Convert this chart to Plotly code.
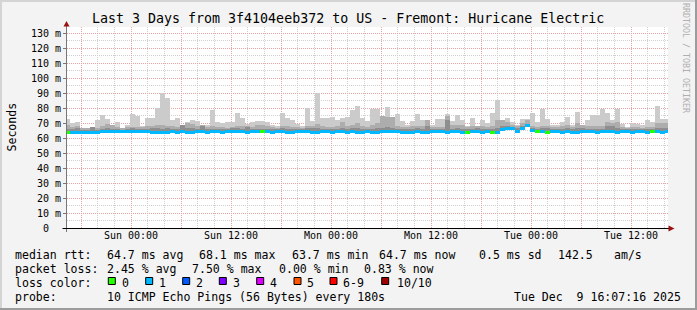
import plotly.graph_objects as go
import pandas as pd

# ---------------- data ----------------
start_time = "2025-12-06 16:22:48"   # centre of first 36-min column
step = "36min"

rtt_max = [
    73.0, 70.2, 70.7, 67.0, 67.0, 67.3, 72.0, 75.3, 72.4, 68.7,
    70.7, 67.0, 68.7, 76.0, 74.7, 68.2, 73.6, 73.6, 80.0, 90.0,
    86.7, 72.2, 73.6, 69.0, 71.0, 72.0, 71.3, 68.7, 68.7, 78.7,
    70.7, 69.8, 70.7, 70.7, 76.7, 73.3, 69.5, 70.7, 71.3, 71.3,
    70.7, 68.7, 67.8, 76.7, 73.5, 72.0, 69.3, 67.8, 80.0, 71.5,
    90.0, 73.3, 73.3, 74.2, 72.0, 73.3, 74.0, 79.0, 81.3, 73.3,
    71.3, 79.3, 79.3, 74.7, 80.7, 74.0, 76.0, 71.3, 68.7, 71.3,
    76.0, 72.0, 72.0, 68.7, 72.7, 72.7, 76.0, 71.3, 75.3, 72.0,
    68.0, 73.3, 68.0, 72.0, 70.0, 76.7, 85.3, 72.0, 73.3, 70.7,
    68.7, 72.7, 72.7, 76.7, 70.7, 79.3, 72.7, 68.7, 68.7, 70.7,
    74.0, 68.7, 77.3, 68.7, 72.0, 75.3, 75.3, 79.3, 76.7, 72.0,
    79.3, 69.3, 67.3, 70.0, 69.3, 68.7, 72.0, 70.7, 81.3, 72.7,
    72.7,
]
rtt_mid = [
    68.7, 67.3, 68.2, 66.5, 66.5, 67.3, 67.0, 68.0, 69.3, 68.7,
    67.5, 66.5, 67.5, 67.3, 67.3, 67.5, 68.0, 68.0, 68.7, 68.7,
    68.0, 68.0, 67.5, 69.0, 70.0, 69.5, 68.0, 68.7, 67.5, 68.0,
    67.5, 67.5, 67.0, 67.5, 68.0, 68.0, 68.0, 67.5, 68.7, 68.7,
    68.0, 67.5, 67.0, 68.0, 68.0, 67.5, 67.3, 67.0, 68.0, 68.0,
    69.5, 68.0, 67.5, 67.5, 68.0, 70.7, 68.0, 69.0, 70.0, 68.0,
    67.5, 69.0, 70.0, 74.7, 74.0, 74.0, 68.0, 67.5, 67.5, 68.0,
    68.0, 68.0, 72.0, 67.5, 67.5, 67.5, 74.7, 68.5, 69.0, 68.5,
    67.5, 68.0, 68.0, 68.0, 67.5, 68.0, 72.0, 72.0, 70.7, 68.7,
    68.0, 70.0, 72.0, 68.0, 67.5, 68.0, 68.0, 67.5, 67.5, 68.0,
    68.7, 67.5, 70.0, 68.7, 68.0, 68.0, 68.0, 68.0, 71.0, 70.0,
    71.0, 67.5, 67.0, 67.5, 67.5, 67.0, 67.5, 67.5, 70.0, 70.0,
    70.0,
]
rtt_dark = [
    66.0, 66.0, 66.5, 65.5, 65.5, 67.3, 65.5, 66.0, 66.5, 66.0,
    66.0, 65.5, 66.0, 66.5, 66.0, 66.0, 66.0, 66.5, 66.5, 66.0,
    66.5, 66.0, 66.0, 69.0, 66.5, 66.5, 66.0, 68.0, 66.0, 66.0,
    66.0, 66.0, 66.0, 66.5, 66.5, 66.0, 67.5, 66.0, 66.0, 66.0,
    66.0, 66.0, 66.0, 66.5, 66.0, 66.0, 66.0, 66.0, 66.5, 66.5,
    66.5, 66.0, 66.0, 66.0, 66.0, 66.5, 66.0, 66.5, 67.0, 66.0,
    66.0, 66.0, 66.5, 67.0, 67.5, 66.5, 66.0, 66.0, 66.0, 66.0,
    66.5, 66.0, 68.0, 66.0, 66.0, 66.0, 72.0, 66.0, 66.5, 66.0,
    66.0, 66.0, 67.0, 66.0, 66.0, 66.0, 67.0, 68.0, 68.0, 67.0,
    66.5, 68.0, 69.5, 66.5, 66.0, 66.5, 66.5, 66.0, 66.0, 66.0,
    66.5, 66.0, 66.5, 67.0, 66.0, 66.0, 66.0, 66.0, 68.0, 68.0,
    66.5, 66.0, 66.0, 66.0, 66.0, 66.0, 66.0, 66.0, 66.5, 66.5,
    66.5,
]
rtt_min = [
    63.0, 63.0, 63.1, 63.0, 63.0, 63.1, 63.0, 63.3, 63.3, 63.3,
    63.3, 63.3, 63.3, 63.3, 63.3, 63.3, 63.3, 63.0, 63.0, 63.0,
    63.0, 63.3, 63.0, 63.3, 63.0, 63.0, 63.3, 63.3, 63.0, 63.3,
    63.3, 63.0, 63.3, 63.3, 63.3, 63.3, 63.0, 63.3, 63.3, 63.3,
    63.3, 63.0, 63.3, 63.3, 63.0, 63.0, 63.3, 63.3, 63.3, 63.0,
    63.0, 63.3, 63.3, 63.0, 63.3, 63.3, 63.0, 63.3, 63.0, 63.0,
    63.3, 63.0, 63.0, 63.3, 63.3, 63.3, 63.3, 63.0, 63.0, 63.0,
    63.3, 63.0, 63.0, 63.3, 63.3, 63.3, 63.0, 63.3, 63.3, 63.0,
    63.0, 63.3, 63.3, 63.0, 63.3, 63.0, 63.2, 64.7, 65.7, 65.7,
    63.7, 65.7, 67.3, 64.0, 63.5, 63.3, 63.0, 63.3, 63.3, 63.0,
    63.3, 63.0, 63.0, 63.3, 63.3, 63.3, 63.0, 63.3, 63.3, 63.3,
    63.0, 63.3, 63.3, 63.0, 63.3, 63.3, 63.0, 63.3, 63.3, 63.0,
    63.3,
]
median_rtt = [
    63.8, 63.8, 63.8, 63.8, 63.8, 63.8, 63.8, 64.1, 64.1, 64.1,
    64.1, 64.1, 64.1, 64.1, 64.1, 64.1, 64.1, 63.8, 63.8, 63.8,
    63.8, 64.1, 63.8, 64.1, 63.8, 63.8, 64.1, 64.1, 63.8, 64.1,
    64.1, 63.8, 64.1, 64.1, 64.1, 64.1, 63.8, 64.1, 64.1, 64.1,
    64.1, 63.8, 64.1, 64.1, 63.8, 63.8, 64.1, 64.1, 64.1, 63.8,
    63.8, 64.1, 64.1, 63.8, 64.1, 64.1, 63.8, 64.1, 63.8, 63.8,
    64.1, 63.8, 63.8, 64.1, 64.1, 64.1, 64.1, 63.8, 63.8, 63.8,
    64.1, 63.8, 63.8, 64.1, 64.1, 64.1, 63.8, 64.1, 64.1, 63.8,
    63.8, 64.1, 64.1, 63.8, 64.1, 63.8, 64.0, 65.5, 66.5, 66.5,
    64.5, 66.5, 68.1, 64.8, 64.3, 64.1, 63.8, 64.1, 64.1, 63.8,
    64.1, 63.8, 63.8, 64.1, 64.1, 64.1, 63.8, 64.1, 64.1, 64.1,
    63.8, 64.1, 64.1, 63.8, 64.1, 64.1, 63.8, 64.1, 64.1, 63.8,
    64.1,
]
lost_pings = [
    0, 1, 1, 1, 1, 1, 1, 1, 1, 1,
    1, 1, 1, 1, 1, 1, 1, 1, 1, 1,
    1, 1, 1, 1, 1, 1, 1, 1, 1, 1,
    1, 1, 1, 1, 1, 1, 1, 1, 1, 0,
    1, 1, 1, 1, 1, 1, 1, 1, 1, 1,
    1, 1, 1, 1, 1, 1, 1, 1, 1, 1,
    1, 1, 1, 1, 1, 1, 1, 1, 1, 1,
    1, 1, 1, 1, 1, 1, 1, 1, 1, 1,
    0, 1, 1, 1, 1, 0, 1, 1, 1, 1,
    1, 1, 1, 1, 0, 1, 0, 1, 1, 1,
    1, 1, 1, 1, 1, 1, 1, 1, 1, 1,
    1, 1, 1, 1, 1, 1, 1, 0, 1, 1,
    1,
]

y_tick_values = [0, 10, 20, 30, 40, 50, 60, 70, 80, 90, 100, 110, 120, 130]
y_tick_labels = ["0\u00a0\u00a0"] + [f"{v}\u00a0m" for v in y_tick_values[1:]]

loss_labels = ["0", "1", "2", "3", "4", "5", "6-9", "10/10"]
loss_swatch = ["#26ff00", "#00b8ff", "#0059ff", "#7e00ff", "#dd00ff", "#ff5500", "#ff0000", "#a10000"]
loss_color_of = {0: "#26ff00", 1: "#00b8ff", 2: "#0059ff", 3: "#7e00ff",
                 4: "#dd00ff", 5: "#ff5500", 9: "#ff0000", 10: "#a10000"}

title = "Last 3 Days from 3f4104eeb372 to US - Fremont: Huricane Electric"
legend_rows = [
    [(16, "median rtt:"), (107.3, "64.7 ms avg"), (200, "68.1 ms max"), (292.3, "63.7 ms min"),
     (379.3, "64.7 ms now"), (479.3, "0.5 ms sd"), (559, "142.5"), (614.3, "am/s")],
    [(16, "packet loss:"), (107.3, "2.45 % avg"), (192.7, "7.50 % max"), (279.3, "0.00 % min"),
     (365, "0.83 % now")],
    [(16, "loss color:")],
    [(16, "probe:"), (107.3, "10 ICMP Echo Pings (56 Bytes) every 180s")],
]
timestamp = "Tue Dec  9 16:07:16 2025"

# ---------------- figure ----------------
times = pd.date_range(start_time, periods=len(rtt_max), freq=step)
col_w = pd.Timedelta(step).total_seconds() * 1000

MONO = "DejaVu Sans Mono"
LIGHT, MID, DARK = "#cbcbcb", "#adadad", "#8e8e8e"

fig = go.Figure()
for top, col in [(rtt_max, LIGHT), (rtt_mid, MID), (rtt_dark, DARK)]:
    fig.add_bar(x=times, y=[t - b for t, b in zip(top, rtt_min)], base=rtt_min,
                width=col_w, marker=dict(color=col, line=dict(width=0)), hoverinfo="skip")
fig.add_bar(x=times, y=[2.0] * len(median_rtt), base=[m - 1.0 for m in median_rtt],
            width=col_w, marker=dict(color=[loss_color_of[l] for l in lost_pings], line=dict(width=0)),
            hoverinfo="skip")

L, R, T, B = 67, 668, 27, 228
W, H = 697, 310


def px(x):
    return (x - L) / (R - L)


def py(y):
    return (B - y) / (B - T)


RED_GRID = "#e9a3a3"
GRAY_GRID = "#cfcfcf"

fig.update_layout(
    width=W, height=H,
    margin=dict(l=L, r=W - R, t=T, b=H - B, pad=0),
    paper_bgcolor="#f3f3f3", plot_bgcolor="#ffffff",
    barmode="overlay", bargap=0, showlegend=False,
    font=dict(family=MONO, size=10, color="#000000"),
)
fig.update_xaxes(
    type="date", range=["2025-12-06 16:19:12", "2025-12-09 16:26:24"],
    tick0="2025-12-07 00:00", dtick=6 * 3600 * 1000, ticklabelstep=2,
    tickformat="%a %H:%M", showgrid=True, gridcolor=RED_GRID, gridwidth=1, griddash="1px,1px",
    minor=dict(tick0="2025-12-07 00:00", dtick=2 * 3600 * 1000, showgrid=True,
               gridcolor=GRAY_GRID, griddash="1px,1px", gridwidth=1),
    showline=False, zeroline=False, ticks="", tickfont=dict(family=MONO, size=10),
)
fig.update_yaxes(
    range=[0, 134], tickmode="array", tickvals=y_tick_values, ticktext=y_tick_labels,
    showgrid=True, gridcolor=RED_GRID, gridwidth=1, griddash="1px,1px",
    minor=dict(tickmode="array", tickvals=[v + 5 for v in y_tick_values], showgrid=True,
               gridcolor=GRAY_GRID, griddash="1px,1px", gridwidth=1),
    showline=False, zeroline=False, ticks="outside", ticklen=3, tickcolor="#777777",
    tickfont=dict(family=MONO, size=10),
)

shapes = []
ARROW = "#9b1010"
# axes lines
shapes.append(dict(type="line", xref="paper", yref="paper", x0=px(66.5), x1=px(66.5),
                   y0=py(232), y1=py(24), line=dict(color="#777777", width=1), layer="above"))
shapes.append(dict(type="line", xref="paper", yref="paper", x0=px(62.5), x1=px(669),
                   y0=py(228.5), y1=py(228.5), line=dict(color="#000000", width=1), layer="above"))
# arrow heads
shapes.append(dict(type="path", xref="paper", yref="paper", layer="above",
                   path=f"M {px(63.5)} {py(26.5)} L {px(69.5)} {py(26.5)} L {px(66.5)} {py(21)} Z",
                   fillcolor=ARROW, line=dict(width=0)))
shapes.append(dict(type="path", xref="paper", yref="paper", layer="above",
                   path=f"M {px(668.5)} {py(225.5)} L {px(668.5)} {py(231.5)} L {px(674.5)} {py(228.5)} Z",
                   fillcolor=ARROW, line=dict(width=0)))
# image frame
shapes.append(dict(type="line", xref="paper", yref="paper", x0=px(0), x1=px(W), y0=py(1), y1=py(1),
                   line=dict(color="#d4d4d4", width=2)))
shapes.append(dict(type="line", xref="paper", yref="paper", x0=px(1), x1=px(1), y0=py(0), y1=py(H),
                   line=dict(color="#d4d4d4", width=2)))
shapes.append(dict(type="line", xref="paper", yref="paper", x0=px(0), x1=px(W), y0=py(H - 1), y1=py(H - 1),
                   line=dict(color="#9c9c9c", width=2)))
shapes.append(dict(type="line", xref="paper", yref="paper", x0=px(W - 1), x1=px(W - 1), y0=py(0), y1=py(H),
                   line=dict(color="#9c9c9c", width=2)))

annotations = []


def txt(x, y, s, size=11.55, xanchor="left", color="#000000", angle=0):
    annotations.append(dict(x=px(x), y=py(y), xref="paper", yref="paper", text=s.replace(" ", "\u00a0"),
                            showarrow=False, xanchor=xanchor, yanchor="middle", textangle=angle,
                            font=dict(family=MONO, size=size, color=color), borderpad=0, borderwidth=0))


txt(348, 19, title, size=13.3, xanchor="center")
txt(11, 127.5, "Seconds", size=11.55, xanchor="center", angle=-90)
txt(686, 58, "RRDTOOL / TOBI OETIKER", size=8.3, xanchor="center", color="#b0b0b0", angle=90)

row_y = [254.5, 268.5, 282.5, 296.5]
for yy, row in zip(row_y, legend_rows):
    for xx, s in row:
        txt(xx - 0.7, yy, s)
txt(681, row_y[3], timestamp, xanchor="right")

sw_x = [108.3, 145.7, 182.7, 219.3, 256.7, 294.0, 330.0, 381.7]
for sx, lab, colr in zip(sw_x, loss_labels, loss_swatch):
    shapes.append(dict(type="rect", xref="paper", yref="paper", x0=px(sx), x1=px(sx + 7),
                       y0=py(284.5), y1=py(277.5), fillcolor=colr, line=dict(color="#000000", width=1)))
    txt(sx + 13.4 if lab != "10/10" else sx + 15, row_y[2], lab)

fig.update_layout(shapes=shapes, annotations=annotations)
fig.write_html("out.html")
